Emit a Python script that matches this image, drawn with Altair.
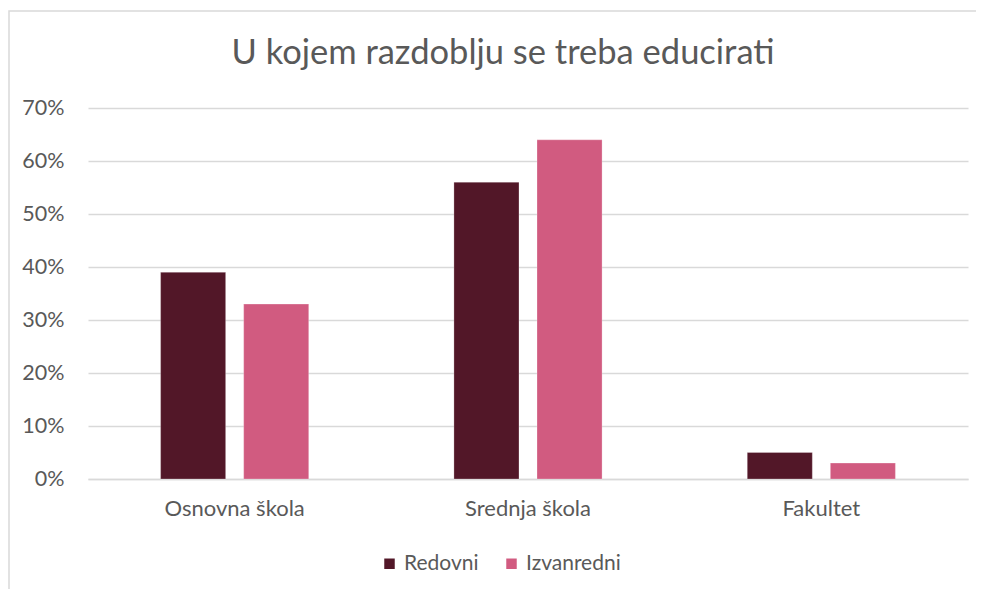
import altair as alt
import pandas as pd

title_text = "U kojem razdoblju se treba educirati"
categories = ["Osnovna škola", "Srednja škola", "Fakultet"]
series = ["Redovni", "Izvanredni"]
redovni = [0.39, 0.56, 0.05]
izvanredni = [0.33, 0.64, 0.03]
colors = ["#521728", "#D15B80"]
y_ticks = [0, 0.1, 0.2, 0.3, 0.4, 0.5, 0.6, 0.7]

rows = []
for i, c in enumerate(categories):
    rows.append({"cat": c, "series": "Redovni", "value": redovni[i]})
    rows.append({"cat": c, "series": "Izvanredni", "value": izvanredni[i]})
df = pd.DataFrame(rows)

FONT = "Lato"
GRAY = "#595959"

one = pd.DataFrame({"t": [title_text]})

frame = alt.Chart(one).mark_rect(
    fill="transparent", stroke="#D9D9D9", strokeWidth=1.5, clip=False
).encode(
    x=alt.value(-79), x2=alt.value(1000), y=alt.value(-97), y2=alt.value(700)
)

title = alt.Chart(one).mark_text(
    font=FONT, fontSize=34.5, color=GRAY, align="center", baseline="middle", clip=False
).encode(
    text="t:N", x=alt.value(415), y=alt.value(-54)
)

bars = alt.Chart(df).mark_bar(stroke="white", strokeWidth=0.5, strokeOpacity=0.5).encode(
    x=alt.X("cat:N", sort=categories,
            scale=alt.Scale(paddingInner=0.495, paddingOuter=0.2475),
            axis=alt.Axis(title=None, labelAngle=0, ticks=False, domain=True,
                          domainColor="#D9D9D9", domainWidth=1.5,
                          labelFont=FONT, labelFontSize=22, labelColor=GRAY,
                          labelPadding=19)),
    xOffset=alt.XOffset("series:N", sort=series,
                        scale=alt.Scale(paddingInner=0.217, paddingOuter=0)),
    y=alt.Y("value:Q", scale=alt.Scale(domain=[0, 0.7]),
            axis=alt.Axis(title=None, format=".0%", values=y_ticks,
                          ticks=False, domain=False, gridColor="#D9D9D9",
                          gridWidth=1.5, labelFont=FONT, labelFontSize=21.5,
                          labelColor=GRAY, labelPadding=24)),
    color=alt.Color("series:N", sort=series,
                    scale=alt.Scale(domain=series, range=colors),
                    legend=alt.Legend(title=None, orient="none", direction="horizontal",
                                      legendX=291, legendY=445,
                                      symbolType="square", symbolSize=110,
                                      symbolStrokeWidth=0,
                                      labelFont=FONT, labelFontSize=21,
                                      labelColor=GRAY, columnPadding=22,
                                      labelOffset=4)),
)

chart = alt.layer(frame, title, bars).properties(
    width=880, height=371,
    autosize=alt.AutoSizeParams(type="none"),
    padding={"left": 80, "top": 100, "right": 8, "bottom": 110},
).configure_view(stroke=None)

chart.save("out.html", embed_options={"renderer": "svg", "actions": False})
